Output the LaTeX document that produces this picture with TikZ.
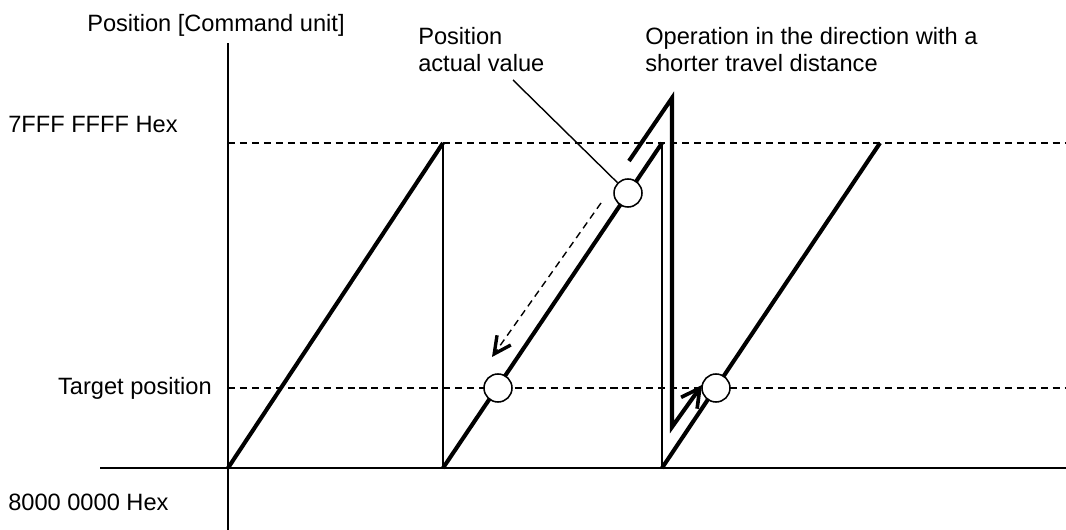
\documentclass[tikz,border=0pt]{standalone}
\usepackage{fontspec}
\setmainfont{Liberation Sans}
\usetikzlibrary{arrows.meta}
\tikzset{>=Straight Barb,every node/.style={font=\fontsize{16.8}{19.2}\selectfont,inner sep=0pt},
axis/.style={line width=1.1pt},ramp/.style={line width=2.9pt},jump/.style={line width=1.2pt},
guide/.style={line width=1pt,dash pattern=on 5pt off 3.5pt},
marker/.style={circle,draw,fill=white,line width=1.1pt,minimum size=0.7cm}}
\begin{document}
\begin{tikzpicture}[x=0.025cm,y=-0.025cm]
\useasboundingbox (0,0) rectangle (1066,530);
% axes
\coordinate (ytop) at (228,43);\coordinate (ybot) at (228,530);
\coordinate (xl) at (100,468);\coordinate (xr) at (1066,468);
\draw[axis] (ybot)--(ytop);\draw[axis] (xl)--(xr);
\node[anchor=base west] (ylab) at (87,32){Position [Command unit]};
\node[anchor=base west] (max) at (8,133){7FFF FFFF Hex};
\node[anchor=base east] (tgt) at (212,395){Target position};
\node[anchor=base west] (min) at (8,511){8000 0000 Hex};
% limits
\coordinate (gmax) at (1066,143);\coordinate (gtgt) at (1066,388);
\draw[guide] (228,143)--(gmax);\draw[guide] (228,388)--(gtgt);
% sawtooth
\coordinate (o) at (228,468);
\foreach \x/\n in {443/1,662/2,880/3}{\coordinate (p\n) at (\x,143);\coordinate (b\n) at (\x,468);}
\draw[ramp] (o)--(p1);\draw[ramp] (b1)--(p2);\draw[ramp] (b2)--(p3);
\draw[jump] (p1)--(b1);\draw[jump] (p2)--(b2);
% shorter way
\coordinate (s0) at (629,161);\coordinate (s1) at (672,98);\coordinate (s2) at (672,427);\coordinate (s3) at (702,385);
\draw[ramp,-{Straight Barb[length=13pt,width=14pt,line width=2.6pt]}] (s0)--(s1)--(s2)--(s3);
\coordinate (d0) at (601,203);\coordinate (d1) at (492,357);
\draw[guide,-{Straight Barb[length=12pt,width=12pt,line width=2.4pt]}] (d0)--(d1);
% points
\node[marker] (act) at (628,193){};
\node[marker] (t1) at (498,388){};
\node[marker] (t2) at (716,388){};
\node[anchor=base west,align=left] (actlab) at (418,72){Position\\actual value};
\node[anchor=base west,align=left] (oplab) at (645,72){Operation in the direction with a\\shorter travel distance};
\coordinate (lead) at (513,80);
\draw[line width=1pt] (lead)--(act);
\end{tikzpicture}
\end{document}
